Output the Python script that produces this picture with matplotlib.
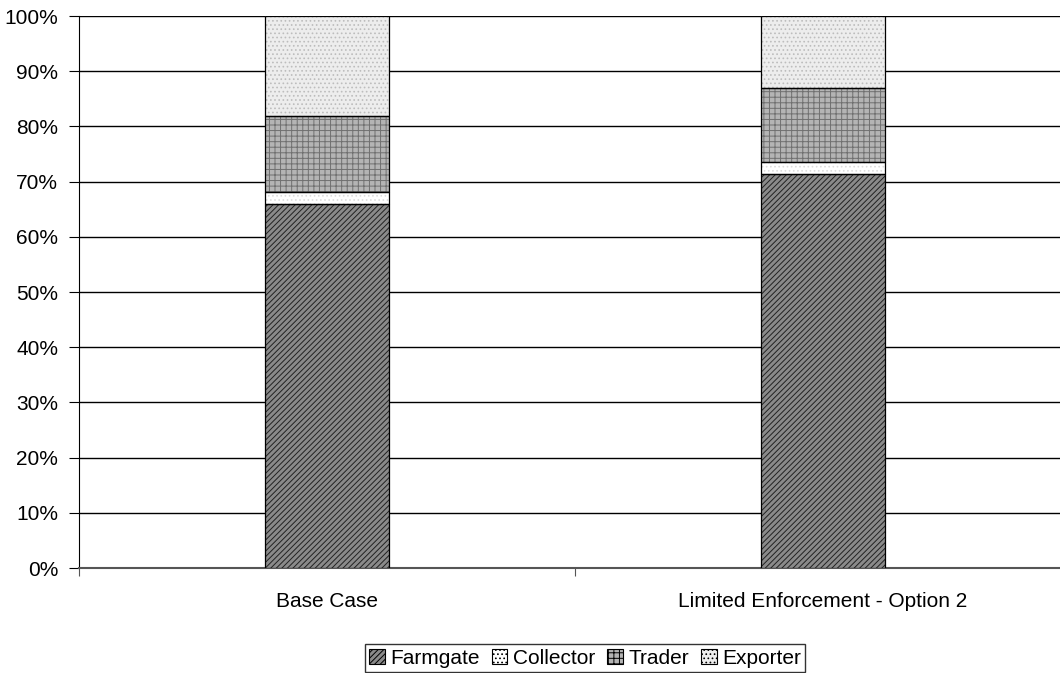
import matplotlib.pyplot as plt
import matplotlib as mpl

plt.rcParams['font.family'] = ['Liberation Sans', 'DejaVu Sans']
mpl.rcParams['hatch.linewidth'] = 0.7

categories = ['Base Case', 'Limited Enforcement - Option 2']
series = ['Farmgate', 'Collector', 'Trader', 'Exporter']
farmgate = [66.0, 71.4]
collector = [2.2, 2.2]
trader = [13.6, 13.4]
exporter = [18.2, 13.0]

values = [farmgate, collector, trader, exporter]
faces = ['#8a8a8a', '#ffffff', '#b4b4b4', '#ededed']
hatches = ['//////', '....', '+++', '....']
hcolors = ['#222222', '#dddddd', '#707070', '#bdbdbd']

fig = plt.figure(figsize=(10.6, 6.73), dpi=100)
# axes run past the right edge, as in the original
ax = fig.add_axes([79/1060, 1 - 568/673, 992/1060, 552/673])

x = [0, 1]
bottom = [0, 0]
handles = []
for vals, fc, h, hc, name in zip(values, faces, hatches, hcolors, series):
    bars = ax.bar(x, vals, width=0.252, bottom=bottom, facecolor=fc,
                  edgecolor=hc, hatch=h, linewidth=0, zorder=3, label=name)
    ax.bar(x, vals, width=0.252, bottom=bottom, facecolor='none',
           edgecolor='black', linewidth=0.9, zorder=4)
    handles.append(bars)
    bottom = [b + v for b, v in zip(bottom, vals)]

ax.set_xlim(-0.5, 1.5)
ax.set_ylim(0, 100)
ax.set_yticks(range(0, 101, 10))
ax.set_yticklabels([f'{v}%' for v in range(0, 101, 10)], fontsize=15)
ax.set_xticks([-0.5, 0.5, 1.5])
ax.set_xticklabels([])
ax.set_xticks(x, minor=True)
ax.set_xticklabels(categories, minor=True, fontsize=15)
ax.tick_params(axis='x', which='minor', length=0, pad=17)
ax.tick_params(axis='x', which='major', length=6, direction='out', color='#555555')
ax.tick_params(axis='y', length=7, direction='out', color='black', pad=8)
ax.yaxis.grid(True, color='black', linewidth=1.0, zorder=0)
ax.set_axisbelow(True)
for s in ['top', 'right']:
    ax.spines[s].set_visible(False)
ax.spines['left'].set_color('black')
ax.spines['bottom'].set_color('#555555')
ax.spines['bottom'].set_linewidth(1.5)

leg = fig.legend(handles, series, loc='center', bbox_to_anchor=(585/1060, 1 - 658/673),
                 ncol=4, fontsize=15, frameon=True, fancybox=False, edgecolor='black',
                 handlelength=0.75, handleheight=0.75, handletextpad=0.25, columnspacing=0.6,
                 borderpad=0.2, borderaxespad=0)
for p in leg.get_patches():
    p.set_edgecolor('black')
    p.set_linewidth(0.8)
leg.get_frame().set_linewidth(1.0)

fig.savefig('out.png', dpi=100)
